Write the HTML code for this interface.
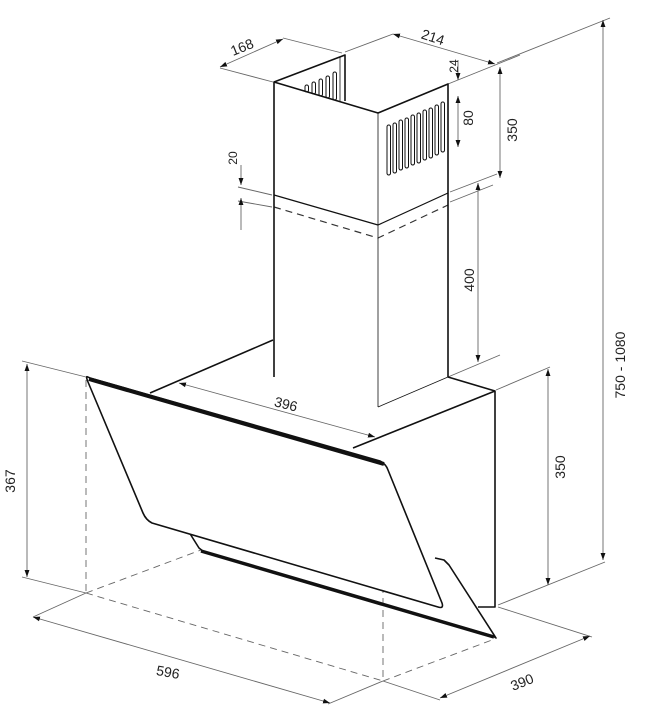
<!DOCTYPE html>
<html><head><meta charset="utf-8"><style>
html,body{margin:0;padding:0;background:#fff}
svg{display:block}
text{font-family:"Liberation Sans",Arial,sans-serif;fill:#222}
</style></head><body>
<svg width="665" height="719" viewBox="0 0 665 719" xmlns="http://www.w3.org/2000/svg">
<defs>
<marker id="a" viewBox="0 0 10 10" refX="10" refY="5" markerWidth="7" markerHeight="7" orient="auto-start-reverse" markerUnits="userSpaceOnUse"><path d="M0,1.5 L10,5 L0,8.5Z" fill="#111"/></marker>
</defs>
<g stroke="#666" stroke-width="0.9" fill="none">
<line x1="220" y1="68" x2="273" y2="82"/>
<line x1="283" y1="38" x2="342" y2="53"/>
<line x1="220" y1="67" x2="283" y2="39" marker-start="url(#a)" marker-end="url(#a)"/>
<line x1="345" y1="52" x2="393" y2="34"/>
<line x1="448" y1="84" x2="520" y2="55"/>
<line x1="393" y1="34" x2="495" y2="64" marker-start="url(#a)" marker-end="url(#a)"/>
<line x1="458" y1="60" x2="458" y2="80" marker-end="url(#a)"/>
<line x1="458" y1="96" x2="458" y2="147" marker-start="url(#a)" marker-end="url(#a)"/>
<line x1="500" y1="67" x2="500" y2="178" marker-start="url(#a)" marker-end="url(#a)"/>
<line x1="450" y1="192" x2="497" y2="174"/>
<line x1="450" y1="202" x2="493" y2="185"/>
<line x1="478" y1="183" x2="478" y2="362" marker-start="url(#a)" marker-end="url(#a)"/>
<line x1="448" y1="377" x2="500" y2="355"/>
<line x1="238" y1="187" x2="272" y2="195"/>
<line x1="238" y1="201" x2="272" y2="207"/>
<line x1="241" y1="165" x2="241" y2="185" marker-end="url(#a)"/>
<line x1="241" y1="230" x2="241" y2="198" marker-end="url(#a)"/>
<line x1="497" y1="63" x2="610" y2="18"/>
<line x1="603" y1="20" x2="603" y2="560" marker-start="url(#a)" marker-end="url(#a)"/>
<line x1="498" y1="605" x2="605" y2="562"/>
<line x1="496" y1="390" x2="550" y2="367"/>
<line x1="548" y1="369" x2="548" y2="585" marker-start="url(#a)" marker-end="url(#a)"/>
<line x1="179" y1="383" x2="375" y2="437" marker-start="url(#a)" marker-end="url(#a)"/>
<line x1="22" y1="361" x2="86" y2="377"/>
<line x1="22" y1="577" x2="86" y2="593"/>
<line x1="27" y1="364" x2="27" y2="577" marker-start="url(#a)" marker-end="url(#a)"/>
<line x1="86" y1="593" x2="33" y2="617"/>
<line x1="383" y1="681" x2="328" y2="704"/>
<line x1="33" y1="617" x2="330" y2="703" marker-start="url(#a)" marker-end="url(#a)"/>
<line x1="383" y1="681" x2="440" y2="700"/>
<line x1="498" y1="607" x2="592" y2="637"/>
<line x1="440" y1="698" x2="590" y2="636" marker-start="url(#a)" marker-end="url(#a)"/>
</g>
<g stroke="#666" stroke-width="0.9" fill="none" stroke-dasharray="7,5">
<line x1="86" y1="380" x2="86" y2="593"/>
<line x1="383" y1="466" x2="383" y2="681"/>
<line x1="86" y1="593" x2="201" y2="550"/>
<line x1="86" y1="593" x2="383" y2="681"/>
<line x1="383" y1="681" x2="492" y2="640"/>
<polyline points="274,207 378,238 448,205" stroke="#333" stroke-width="1.2"/>
</g>
<g stroke="#111" stroke-width="1.6" fill="none" stroke-linejoin="round">
<polyline points="274,377 274,82 345,55 345,101"/>
<line x1="340" y1="57" x2="340" y2="101" stroke-width="0.8"/>
<polyline points="274,82 378,113 448,84 448,377"/>
<line x1="378" y1="113" x2="378" y2="407" stroke-width="0.8"/>
<line x1="378" y1="407" x2="448" y2="377" stroke-width="0.8"/>
<polyline points="274,195 378,225 448,193" stroke-width="1.2"/>
<polyline points="448,377 495,391 495,607 478,607"/>
<line x1="495" y1="391" x2="353" y2="448"/>
<line x1="273" y1="340" x2="150" y2="393"/>
<polyline points="177,513 199,548 204,552 493,636 496,638 449,565 444,560 435,558"/>
<line x1="201" y1="551" x2="494" y2="637" stroke-width="3.5"/>
<path d="M87,377 Q86,376 90,378 L380,461 Q386,464 388,470 L442,603 Q444,609 438,607 L152,523 Q146,520 143,513 L88,382 Q86,377 87,377Z" fill="#fff"/>
<line x1="89" y1="379" x2="384" y2="464" stroke-width="4"/>
</g>
<g stroke="#111" stroke-width="1" fill="none">
<rect x="305" y="85" width="3.5" height="7" rx="1.7"/>
<rect x="312" y="82" width="3.5" height="12" rx="1.7"/>
<rect x="319" y="79" width="3.5" height="17" rx="1.7"/>
<rect x="326" y="76" width="3.5" height="22" rx="1.7"/>
<rect x="333" y="72" width="3.5" height="28" rx="1.7"/>
<rect x="387" y="125" width="3.5" height="50" rx="1.7"/>
<rect x="393" y="123" width="3.5" height="50" rx="1.7"/>
<rect x="399" y="120" width="3.5" height="50" rx="1.7"/>
<rect x="405" y="118" width="3.5" height="50" rx="1.7"/>
<rect x="411" y="115" width="3.5" height="50" rx="1.7"/>
<rect x="417" y="113" width="3.5" height="50" rx="1.7"/>
<rect x="423" y="110" width="3.5" height="50" rx="1.7"/>
<rect x="429" y="108" width="3.5" height="50" rx="1.7"/>
<rect x="435" y="105" width="3.5" height="50" rx="1.7"/>
<rect x="441" y="102" width="3.5" height="50" rx="1.7"/>
</g>
<g font-size="14">
<text x="242" y="52" text-anchor="middle" transform="rotate(-22 242 47)">168</text>
<text x="433" y="42" text-anchor="middle" transform="rotate(18 433 37)">214</text>
<text x="458" y="66" font-size="12" text-anchor="middle" transform="rotate(-90 458 66)">24</text>
<text x="473" y="118" text-anchor="middle" transform="rotate(-90 473 118)">80</text>
<text x="517" y="130" text-anchor="middle" transform="rotate(-90 517 130)">350</text>
<text x="237" y="158" font-size="12" text-anchor="middle" transform="rotate(-90 237 158)">20</text>
<text x="474" y="280" text-anchor="middle" transform="rotate(-90 474 280)">400</text>
<text x="286" y="409" text-anchor="middle" transform="rotate(14 286 404)">396</text>
<text x="565" y="467" text-anchor="middle" transform="rotate(-90 565 467)">350</text>
<text x="625" y="365" text-anchor="middle" transform="rotate(-90 625 365)">750 - 1080</text>
<text x="15" y="481" text-anchor="middle" transform="rotate(-90 15 481)">367</text>
<text x="168" y="677" text-anchor="middle" transform="rotate(10 168 672)">596</text>
<text x="522" y="687" text-anchor="middle" transform="rotate(-22 522 682)">390</text>
</g>
</svg>
</body></html>
